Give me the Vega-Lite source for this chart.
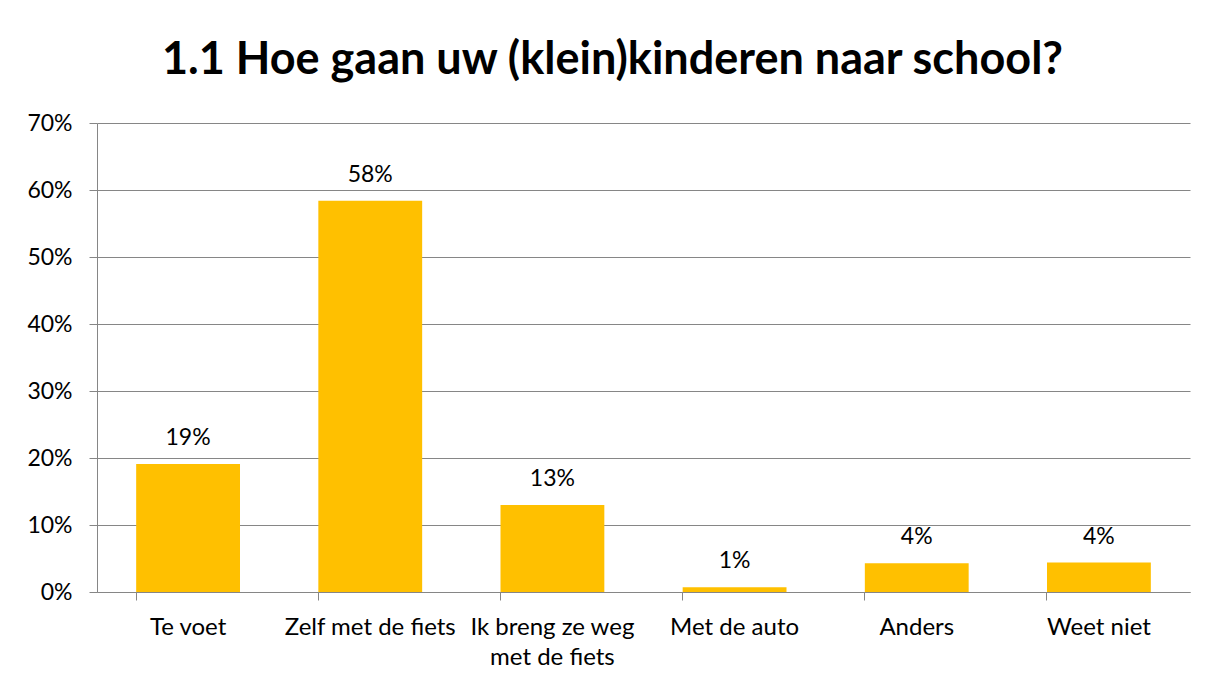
{
  "$schema": "https://vega.github.io/schema/vega-lite/v6.json",
  "width": 1093,
  "height": 469,
  "autosize": {"type": "none"},
  "padding": {"left": 97, "top": 123, "right": 18, "bottom": 92},
  "background": "white",
  "title": {
    "text": "1.1 Hoe gaan uw (klein)kinderen naar school?",
    "font": "Lato",
    "fontSize": 45,
    "fontWeight": "bold",
    "color": "black",
    "anchor": "middle",
    "baseline": "alphabetic",
    "offset": -7,
    "dx": -31
  },
  "config": {
    "view": {"stroke": null},
    "font": "Lato"
  },
  "data": {
    "values": [
      {"cat": "Te voet", "pct": 0.191},
      {"cat": "Zelf met de fiets", "pct": 0.584},
      {"cat": "Ik breng ze weg met de fiets", "pct": 0.130},
      {"cat": "Met de auto", "pct": 0.007},
      {"cat": "Anders", "pct": 0.043},
      {"cat": "Weet niet", "pct": 0.044}
    ]
  },
  "encoding": {
    "x": {
      "field": "cat",
      "type": "nominal",
      "sort": null,
      "scale": {"paddingInner": 0.43, "paddingOuter": 0.215},
      "axis": {
        "title": null,
        "labelAngle": 0,
        "labelFont": "Lato",
        "labelFontSize": 24,
        "labelColor": "black",
        "labelPadding": 15,
        "labelLineHeight": 30,
        "labelExpr": "datum.value == 'Ik breng ze weg met de fiets' ? ['Ik breng ze weg', 'met de fiets'] : datum.value",
        "bandPosition": 0,
        "domainColor": "#868686",
        "tickColor": "#868686",
        "tickSize": 8,
        "grid": false
      }
    },
    "y": {
      "field": "pct",
      "type": "quantitative",
      "scale": {"domain": [0, 0.7], "nice": false},
      "axis": {
        "title": null,
        "format": ".0%",
        "values": [0, 0.1, 0.2, 0.3, 0.4, 0.5, 0.6, 0.7],
        "labelFont": "Lato",
        "labelFontSize": 23,
        "labelColor": "black",
        "labelPadding": 17,
        "domainColor": "#868686",
        "tickColor": "#868686",
        "tickSize": 8,
        "gridColor": "#868686",
        "gridWidth": 1
      }
    }
  },
  "layer": [
    {"mark": {"type": "bar", "color": "#FFC000"}},
    {
      "mark": {"type": "text", "baseline": "alphabetic", "dy": -19, "font": "Lato", "fontSize": 23, "color": "black"},
      "encoding": {"text": {"field": "pct", "format": ".0%"}}
    }
  ]
}
